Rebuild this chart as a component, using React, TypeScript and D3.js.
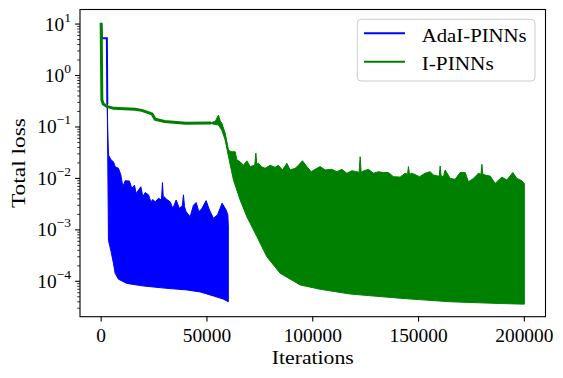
import React from "react";
import * as d3 from "d3";

// ---------- data ----------
// AdaI-PINNs: initial plain line segment
const adaLineIter = [0, 330, 2700, 2900];
const adaLineLoss = [10.2, 5.3, 5.3, 0.28];
// AdaI-PINNs: oscillating band (upper / lower envelope)
const adaUpperIter = [2900, 3100, 3450, 4730, 5810, 6620, 8180, 9310, 10260, 11340, 13370, 14510, 15740, 16540, 18760, 19710, 20790, 22350, 23490, 24430, 25520, 27080, 28500, 28970, 29400, 29770, 31050, 32610, 33890, 35450, 37000, 38400, 38900, 39400, 40170, 42060, 43620, 44900, 46170, 47590, 49620, 51180, 53070, 54960, 57180, 59070, 59880, 60100];
const adaUpperLoss = [0.28, 0.09, 0.0285, 0.0228, 0.0211, 0.0169, 0.0157, 0.0117, 0.0069, 0.009, 0.0089, 0.0064, 0.0074, 0.0051, 0.0069, 0.0044, 0.0053, 0.0048, 0.0035, 0.0039, 0.0035, 0.0041, 0.0038, 0.0083, 0.0040, 0.0044, 0.0039, 0.0035, 0.0026, 0.0038, 0.0026, 0.0030, 0.0048, 0.0028, 0.00225, 0.0018, 0.003, 0.0034, 0.00225, 0.0026, 0.0037, 0.00243, 0.00168, 0.00195, 0.0033, 0.00243, 0.00195, 0.0012];
const adaLowerIter = [2900, 3450, 4730, 5810, 6620, 8180, 12150, 19990, 31050, 40500, 46790, 53070, 57800, 60100];
const adaLowerLoss = [0.28, 6.3e-4, 3.7e-4, 2.24e-4, 1.43e-4, 1.1e-4, 9.1e-5, 8.1e-5, 7.3e-5, 6.8e-5, 6.2e-5, 5.2e-5, 4.5e-5, 4.0e-5];

// I-PINNs: plain line segment
const iLineIter = [0, 330, 1000, 3000, 6000, 16000, 19200, 24000, 25500, 30000, 40000, 52000];
const iLineLoss = [10.6, 0.334, 0.28, 0.248, 0.23, 0.22, 0.21, 0.18, 0.141, 0.128, 0.118, 0.119];
// I-PINNs: oscillating band
const iUpperIter = [52000, 54000, 55400, 56300, 57000, 58600, 59700, 60160, 61440, 63330, 64130, 65690, 67250, 68860, 70420, 72600, 73110, 73600, 74340, 75620, 77510, 79870, 82230, 83790, 85680, 87760, 89320, 91680, 93240, 95130, 97210, 99250, 101140, 103500, 105860, 109030, 111390, 113750, 116120, 118480, 120840, 121900, 122400, 122900, 123960, 126330, 128690, 131050, 133420, 135780, 138140, 141310, 143670, 144800, 145230, 145700, 146840, 148870, 150430, 153120, 155490, 157040, 159800, 160210, 160700, 161770, 162570, 164940, 167300, 169660, 172030, 173590, 175950, 178310, 179500, 179920, 180400, 181480, 183840, 186200, 189370, 191730, 194570, 196460, 198820, 199910, 200000];
const iUpperLoss = [0.121, 0.13, 0.17, 0.13, 0.119, 0.076, 0.045, 0.0356, 0.033, 0.033, 0.023, 0.021, 0.018, 0.022, 0.017, 0.018, 0.031, 0.019, 0.0197, 0.017, 0.0157, 0.018, 0.0164, 0.018, 0.0146, 0.0197, 0.0146, 0.0157, 0.018, 0.022, 0.017, 0.0135, 0.015, 0.017, 0.0146, 0.015, 0.0135, 0.015, 0.0126, 0.0141, 0.0135, 0.013, 0.0264, 0.013, 0.014, 0.015, 0.0126, 0.0135, 0.013, 0.013, 0.0108, 0.0106, 0.0126, 0.012, 0.017, 0.012, 0.0126, 0.0116, 0.0108, 0.0126, 0.0135, 0.0116, 0.011, 0.0174, 0.011, 0.0108, 0.0146, 0.01, 0.0096, 0.013, 0.013, 0.0086, 0.01, 0.0126, 0.012, 0.0188, 0.012, 0.0116, 0.0111, 0.008, 0.0106, 0.0093, 0.013, 0.01, 0.009, 0.008, 0.008];
const iLowerIter = [52000, 55400, 57000, 58600, 59700, 60500, 62520, 65690, 68860, 73590, 78310, 84600, 94050, 103500, 117680, 141310, 164940, 188570, 200000];
const iLowerLoss = [0.116, 0.109, 0.087, 0.056, 0.033, 0.023, 0.0093, 0.0038, 0.0018, 7.4e-4, 3.0e-4, 1.43e-4, 8.5e-5, 7.0e-5, 5.66e-5, 4.68e-5, 4.0e-5, 3.7e-5, 3.6e-5];

const xTicks = [0, 50000, 100000, 150000, 200000];
const yTickExps = [-4, -3, -2, -1, 0, 1];
const seriesNames = ["AdaI-PINNs", "I-PINNs"];
const seriesColors = ["#0000ff", "#008000"];

// ---------- layout ----------
const W = 563, H = 378;
const L = 80, R = 545.5, T = 9.5, B = 316.7;
const FONT = "'Liberation Serif', 'Times New Roman', serif";
const FS = 19.4;

const x = d3.scaleLinear().domain([-10000, 210000]).range([L, R]);
const y = d3.scaleLog().domain([Math.pow(10, -4.688), Math.pow(10, 1.283)]).range([B, T]);

const zip = (a: number[], b: number[]) => a.map((v, i) => [v, b[i]] as [number, number]);
const line = d3.line<[number, number]>().x(d => x(d[0])).y(d => y(d[1]));

function bandPath(ui: number[], ul: number[], li: number[], ll: number[]) {
  const pts = zip(ui, ul).concat(zip(li, ll).reverse());
  return line(pts) + "Z";
}

export default function App() {
  const minorTicks: number[] = [];
  for (let e = -5; e <= 1; e++) {
    for (let m = 2; m <= 9; m++) {
      const v = m * Math.pow(10, e);
      if (v >= y.domain()[0] && v <= y.domain()[1]) minorTicks.push(v);
    }
  }
  return (
    <svg width={W} height={H} style={{ position: "absolute", left: 0, top: 0, background: "#fff" }} fontFamily={FONT}>
      <defs>
        <clipPath id="plotclip">
          <rect x={L} y={T} width={R - L} height={B - T} />
        </clipPath>
      </defs>
      <rect x={0} y={0} width={W} height={H} fill="#fff" />
      <g clipPath="url(#plotclip)">
        <path d={line(zip(adaLineIter, adaLineLoss)) || ""} fill="none" stroke={seriesColors[0]} strokeWidth={2} />
        <path d={bandPath(adaUpperIter, adaUpperLoss, adaLowerIter, adaLowerLoss)} fill={seriesColors[0]} stroke={seriesColors[0]} strokeWidth={1} strokeLinejoin="round" />
        <path d={line(zip(iLineIter, iLineLoss)) || ""} fill="none" stroke={seriesColors[1]} strokeWidth={3} strokeLinejoin="round" />
        <path d={bandPath(iUpperIter, iUpperLoss, iLowerIter, iLowerLoss)} fill={seriesColors[1]} stroke={seriesColors[1]} strokeWidth={1} strokeLinejoin="round" />
      </g>
      {/* frame */}
      <rect x={L} y={T} width={R - L} height={B - T} fill="none" stroke="#000" strokeWidth={1.1} />
      {/* x ticks */}
      {xTicks.map(t => (
        <g key={"x" + t}>
          <line x1={x(t)} x2={x(t)} y1={B} y2={B + 4.9} stroke="#000" strokeWidth={1.1} />
          <text x={x(t)} y={B + 25.5} textAnchor="middle" fontSize={FS} fill="#000">{t}</text>
        </g>
      ))}
      {/* y major ticks */}
      {yTickExps.map(e => {
        const yy = y(Math.pow(10, e));
        return (
          <g key={"y" + e}>
            <line x1={L - 4.9} x2={L} y1={yy} y2={yy} stroke="#000" strokeWidth={1.1} />
            <text x={L - 9} y={yy + 6.5} textAnchor="end" fontSize={FS} fill="#000">
              10<tspan fontSize={13.5} dy={-9}>{e < 0 ? "\u2212" + Math.abs(e) : String(e)}</tspan>
            </text>
          </g>
        );
      })}
      {minorTicks.map((v, i) => (
        <line key={"m" + i} x1={L - 2.8} x2={L} y1={y(v)} y2={y(v)} stroke="#000" strokeWidth={0.8} />
      ))}
      {/* axis labels */}
      <text x={(L + R) / 2} y={364} textAnchor="middle" fontSize={FS} fill="#000" textLength={82} lengthAdjust="spacingAndGlyphs">Iterations</text>
      <text transform={`translate(25,${(T + B) / 2}) rotate(-90)`} textAnchor="middle" fontSize={FS} fill="#000" textLength={90} lengthAdjust="spacingAndGlyphs">Total loss</text>
      {/* legend */}
      <rect x={357.3} y={19.3} width={177.7} height={61.7} rx={4} ry={4} fill="#fff" fillOpacity={0.8} stroke="#cccccc" strokeWidth={1} />
      {seriesNames.map((n, i) => {
        const ly = 33.3 + i * 28.4;
        return (
          <g key={n}>
            <line x1={364} x2={405} y1={ly} y2={ly} stroke={seriesColors[i]} strokeWidth={2} />
            <text x={421.7} y={ly + 8.2} fontSize={FS} fill="#000" textLength={i === 0 ? 105 : 72} lengthAdjust="spacingAndGlyphs">{n}</text>
          </g>
        );
      })}
    </svg>
  );
}
